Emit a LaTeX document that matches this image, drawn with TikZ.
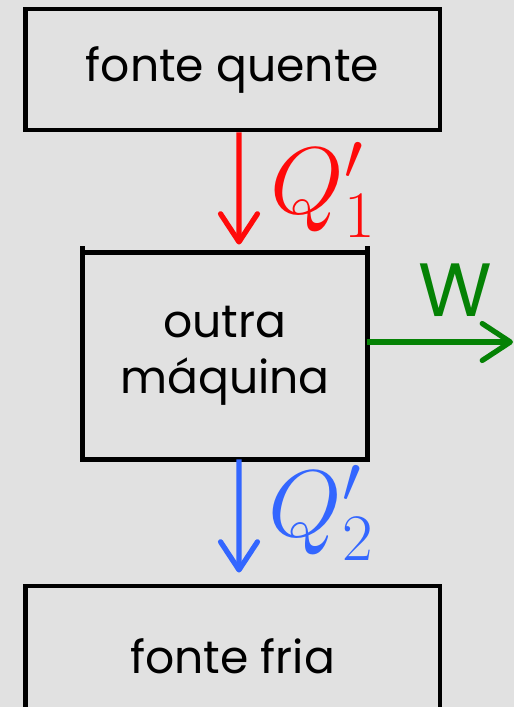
\RequirePackage{fix-cm}
\documentclass[tikz,border=0pt]{standalone}
\usepackage{fontspec}
\setmainfont{Poppins}
\usetikzlibrary{arrows.meta,positioning}
\definecolor{paper}{HTML}{E1E1E1}
\definecolor{hot}{HTML}{FF0A0A}
\definecolor{cold}{HTML}{3366FF}
\definecolor{work}{HTML}{058205}
\tikzset{
  res/.style={draw=black, line width=2.8pt, fill=none, align=center,
              font=\fontsize{26}{32}\selectfont, inner sep=0pt},
  flow/.style={line width=3pt, -{Straight Barb[round, length=16pt, width=21pt, line width=3pt]}},
  hotflow/.style={flow, draw=hot},
  coldflow/.style={flow, draw=cold},
  workflow/.style={flow, draw=work},
  qlbl/.style={font=\fontsize{54}{56}\selectfont, inner sep=0pt}
}

\begin{document}
\begin{tikzpicture}[x=0.02cm,y=-0.02cm]
  \fill[paper] (0,0) rectangle (514,707);
  \useasboundingbox (0,0) rectangle (514,707);

  % reservoirs and engine
  \node[res, minimum width=8.3cm, minimum height=2.42cm] (hotres) at (232.5,69.5) {fonte quente};
  \node[res, draw=none, minimum width=5.6cm, minimum height=4.04cm] (eng) at (225,356) {outra\\máquina};
  \draw[line width=2.8pt] ([yshift=0.13cm]eng.north west) -- (eng.south west) -- (eng.south east) -- ([yshift=0.13cm]eng.north east);
  \draw[line width=2.8pt] (eng.north west) -- (eng.north east);
  \node[res, minimum width=8.3cm, minimum height=2.8cm] (coldres) at (232.5,656) {fonte fria};

  % heat and work
  \draw[hotflow, shorten >=0.16cm] ([xshift=0.13cm]hotres.south) -- ([xshift=0.28cm]eng.north);
  \node[qlbl, text=hot] (q1) at (323,190) {$Q_1'$};

  \coordinate (wout) at (513,342);
  \draw[workflow] (eng.east |- wout) -- (wout);
  \node[text=work, font=\fontsize{43}{44}\selectfont, inner sep=0pt] (w) at (455,290) {W};

  \draw[coldflow, shorten >=0.22cm] ([xshift=0.28cm]eng.south) -- ([xshift=0.13cm]coldres.north);
  \node[qlbl, text=cold] (q2) at (321,513) {$Q_2'$};
\end{tikzpicture}
\end{document}
